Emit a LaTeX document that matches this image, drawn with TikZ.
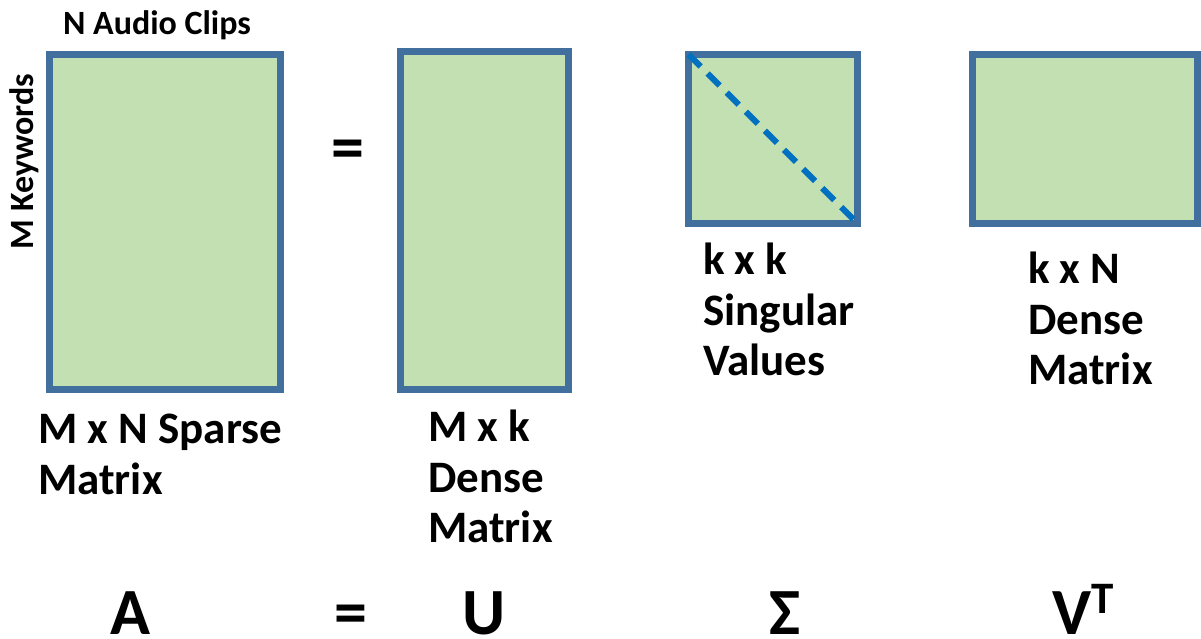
\documentclass[tikz,border=0pt]{standalone}
\usepackage{fontspec}
\setmainfont{Carlito}
\usepackage{xcolor}
\usepackage{tikz}
\usetikzlibrary{calc}
\definecolor{cFill}{HTML}{C3E0B2}
\definecolor{cEdge}{HTML}{41709F}
\definecolor{cDiag}{HTML}{0070C0}
\newcommand{\lblsize}{\fontsize{45}{50.5}\selectfont}
\newcommand{\symsize}{\fontsize{66}{66}\selectfont}
\newcommand{\axsize}{\fontsize{34}{36}\selectfont}
\tikzset{
  mat/.style={draw=cEdge, fill=cFill, line width=7pt, inner sep=0pt, outer sep=0pt},
  lbl/.style={font=\lblsize\bfseries, align=left, inner sep=0pt, anchor=north west},
  axislbl/.style={font=\axsize\bfseries, inner sep=0pt, anchor=base},
  sym/.style={font=\symsize\bfseries, inner sep=0pt, anchor=base},
  diag/.style={draw=cDiag, line width=6pt, dash pattern=on 17pt off 10pt},
}

\begin{document}
\begin{tikzpicture}[x=1pt, y=-1pt]
  \useasboundingbox (0,0) rectangle (1201,639);
  % the four matrices
  \node[mat, minimum width=231pt, minimum height=334.5pt] (A) at (165,221.75) {};
  \node[mat, minimum width=168pt, minimum height=338pt] (U) at (484.5,220.5) {};
  \node[mat, minimum width=169pt, minimum height=169pt] (S) at (773,139) {};
  \node[mat, minimum width=225pt, minimum height=169pt] (V) at (1085,139) {};
  \draw[diag] (S.north west) -- (S.south east);
  % axis captions
  \node[axislbl] (clips) at (157,35) {N Audio Clips};
  \node[axislbl, rotate=90] (keys) at (33,161.5) {M Keywords};
  \node[sym, anchor=center] (eqtop) at (347.5,155) {=};
  % sizes
  \node[lbl] (lblA) at (38,414) {M x N Sparse\\Matrix};
  \node[lbl] (lblU) at (428,410) {M x k\\Dense\\Matrix};
  \node[lbl] (lblS) at (703,243) {k x k\\Singular\\Values};
  \node[lbl] (lblV) at (1028,252) {k x N\\Dense\\Matrix};
  % the equation
  \node[sym] (symA) at (130,634) {A};
  \node[sym] (symEq) at (351,634) {=};
  \node[sym] (symU) at (484,634) {U};
  \node[sym] (symS) at (785,634) {Σ};
  \node[sym] (symV) at (1083,634) {V\raisebox{21pt}{\fontsize{45}{45}\selectfont T}};
\end{tikzpicture}
\end{document}
